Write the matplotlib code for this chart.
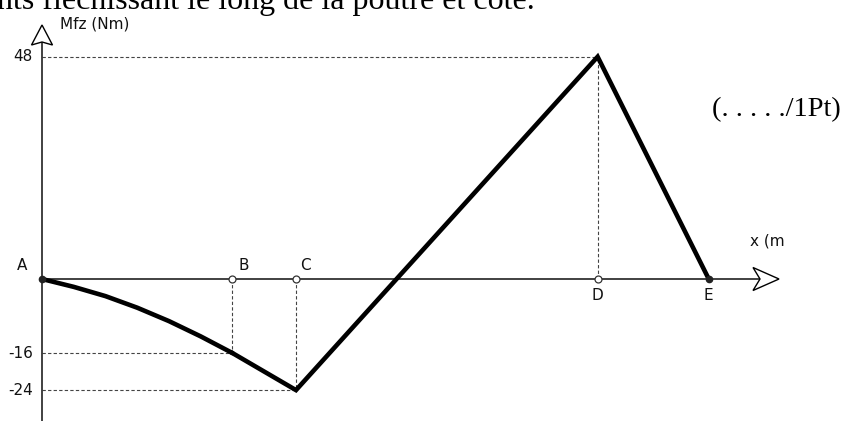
import matplotlib.pyplot as plt
from matplotlib.patches import Polygon

# points caracteristiques (x en m, Mfz en Nm)
noms = ['A', 'B', 'C', 'D', 'E']
x_pts = [0.0, 3.0, 4.0, 8.75, 10.5]
m_pts = [0.0, -16.0, -24.0, 48.0, 0.0]

# troncon parabolique A-B
x_para = [0.0, 0.5, 1.0, 1.5, 2.0, 2.5, 3.0]
m_para = [0.0, -1.7, -3.7, -6.2, -9.1, -12.4, -16.0]

# valeurs cotees sur l'axe
y_cotes = [48, -16, -24]

W, H = 849, 421
fig = plt.figure(figsize=(W / 100, H / 100), dpi=100)
ax = fig.add_axes([0, 0, 1, 1])
ax.set_axis_off()

# echelle : pixels par unite
sx, sy = 63.5, 4.63
x0, y0 = 42, 279
ax.set_xlim(-x0 / sx, (W - x0) / sx)
ax.set_ylim(-(H - y0) / sy, y0 / sy)

# axes
x_fin = (779 - x0) / sx
y_fin = (y0 - 25) / sy
ax.plot([0, x_fin - 19 / sx], [0, 0], color='#333333', lw=1.3, zorder=2)
ax.plot([0, 0], [-(H - y0) / sy, y_fin - 17 / sy], color='#333333', lw=1.3, zorder=2)

# fleches creuses
fx = [[x_fin, 0], [x_fin - 26 / sx, 11.5 / sy], [x_fin - 19 / sx, 0],
      [x_fin - 26 / sx, -11.5 / sy]]
fy = [[0, y_fin], [-10.5 / sx, y_fin - 20 / sy], [0, y_fin - 17 / sy],
      [10.5 / sx, y_fin - 20 / sy]]
for pts in (fx, fy):
    ax.add_patch(Polygon(pts, closed=True, fc='white', ec='black', lw=1.0, zorder=3))

# lignes de rappel en pointilles
i_b, i_c, i_d = 1, 2, 3
for i in (i_b, i_c, i_d):
    ax.plot([0, x_pts[i]], [m_pts[i], m_pts[i]], ls=(0, (3, 2)), color='#444444', lw=0.8, zorder=1)
    ax.plot([x_pts[i], x_pts[i]], [0, m_pts[i]], ls=(0, (3, 2)), color='#444444', lw=0.8, zorder=1)

# diagramme
ax.plot(x_para, m_para, color='black', lw=3.3, solid_capstyle='round', zorder=4)
ax.plot(x_pts[1:], m_pts[1:], color='black', lw=3.3, solid_joinstyle='miter', zorder=4)

# points sur l'axe
ax.plot([x_pts[0], x_pts[4]], [0, 0], 'o', ms=4.5, color='#222222', zorder=5)
ax.plot(x_pts[1:4], [0, 0, 0], 'o', ms=5, mfc='white', mec='#333333', mew=0.9, zorder=5)

# lettres
decal = {'A': (-20, 13), 'B': (11, 13), 'C': (9, 13), 'D': (0, -16), 'E': (0, -16)}
for n, xv in zip(noms, x_pts):
    dx, dy = decal[n]
    ax.text(xv + dx / sx, dy / sy, n, ha='center', va='center', fontsize=11,
            family='DejaVu Sans', color='#111111')

for v in y_cotes:
    ax.text(-9 / sx, v, str(v), ha='right', va='center', fontsize=11, color='#111111')

ax.text(18 / sx, y_fin + 1 / sy, 'Mfz (Nm)', ha='left', va='center', fontsize=11, color='#111111')
ax.text((750 - x0) / sx, 38 / sy, 'x (m', ha='left', va='center', fontsize=11, color='#111111')

ax.text((712 - x0) / sx, (y0 - 97) / sy, '(. . . . ./1Pt)', ha='left', va='top',
        fontsize=20.5, family='Liberation Serif')

# titre coupe en haut
fig.text(-0.004, 1 - 9.5 / H, 'nts fléchissant le long de la poutre et coté.', ha='left',
         va='baseline', fontsize=23, family='Liberation Serif')

fig.savefig('out.png', dpi=100)
